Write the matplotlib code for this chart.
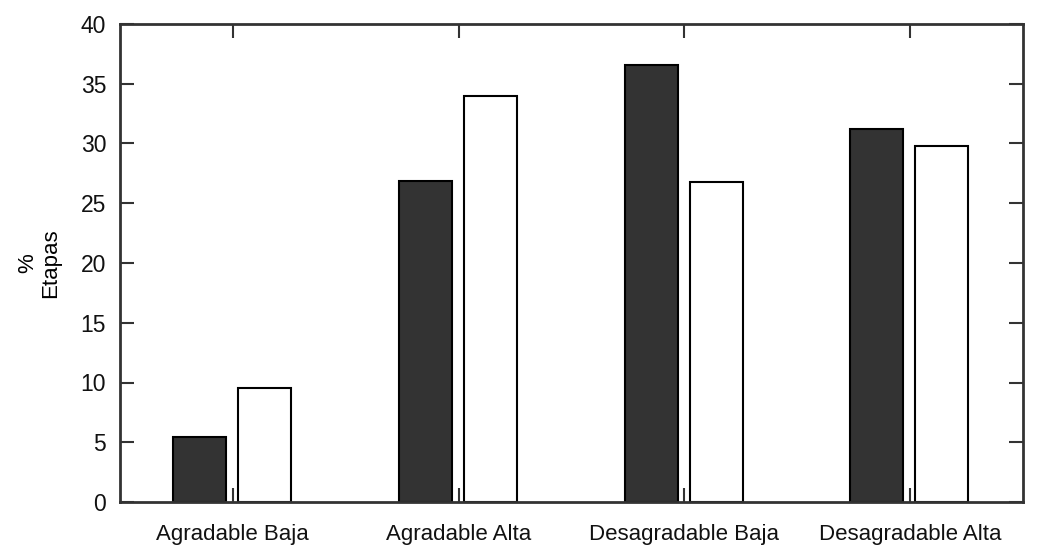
import numpy as np
import matplotlib.pyplot as plt

categorias = ['Agradable Baja', 'Agradable Alta', 'Desagradable Baja', 'Desagradable Alta']
serie_oscura = [5.4, 26.9, 36.6, 31.2]
serie_blanca = [9.5, 34.0, 26.8, 29.8]
yticks = [0, 5, 10, 15, 20, 25, 30, 35, 40]

plt.rcParams['font.family'] = ['Liberation Sans', 'DejaVu Sans']

fig = plt.figure(figsize=(10.37, 5.46), dpi=100)
ax = fig.add_axes([120/1037, 1-502/546, 903/1037, 478/546])

x = np.arange(1, len(categorias)+1)
w = 0.235
ax.bar(x - 0.147, serie_oscura, w, color='#333333', edgecolor='black', linewidth=1.5)
ax.bar(x + 0.141, serie_blanca, w, color='white', edgecolor='black', linewidth=1.5)

ax.set_xlim(0.5, 4.5)
ax.set_ylim(0, 40)
ax.set_xticks(x)
ax.set_xticklabels(categorias)
ax.set_yticks(yticks)
ax.tick_params(direction='in', top=True, right=True, length=10, width=1.5,
               color='#333333', labelsize=16, labelcolor='#111111', pad=16)
ax.tick_params(axis='y', pad=10, labelsize=16.5)
for s in ax.spines.values():
    s.set_linewidth(2)
    s.set_color('#333333')

ax.set_ylabel('%\nEtapas', fontsize=16, labelpad=14, linespacing=1.1)

fig.savefig('out.png', dpi=100)
